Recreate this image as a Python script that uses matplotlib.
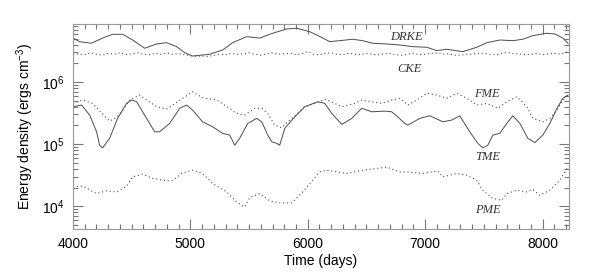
"""Energy density of the different components over time (log scale)."""
import matplotlib
matplotlib.use('Agg')
import matplotlib.pyplot as plt
from matplotlib.ticker import LogLocator, MultipleLocator, NullFormatter

plt.rcParams['font.family'] = ['Liberation Sans', 'DejaVu Sans']
plt.rcParams['mathtext.fontset'] = 'custom'
plt.rcParams['mathtext.rm'] = 'Liberation Sans'
plt.rcParams['mathtext.it'] = 'Liberation Sans:italic'

# DRKE (solid)
drke_t = [4000, 4056, 4156, 4252, 4338, 4423, 4508, 4610, 4713, 4798, 4883,
          4951, 5019, 5164, 5275, 5360, 5480, 5590, 5701, 5820, 5905, 6016,
          6102, 6187, 6272, 6383, 6468, 6553, 6673, 6784, 6894, 7014, 7099,
          7184, 7321, 7440, 7526, 7637, 7748, 7833, 7918, 8037, 8106, 8174,
          8217]
drke_e = [5.1e6, 4.47e6, 4.21e6, 5.1e6, 5.87e6, 5.87e6, 4.75e6, 3.5e6, 4.1e6,
          4.3e6, 3.71e6, 2.97e6, 2.62e6, 2.8e6, 3.28e6, 4.3e6, 5.38e6, 5.1e6,
          6.1e6, 7.16e6, 7.35e6, 6.47e6, 5.42e6, 4.47e6, 4.63e6, 4.89e6,
          4.63e6, 4.21e6, 4.1e6, 3.95e6, 3.71e6, 3.63e6, 3.2e6, 3.37e6, 3.08e6,
          3.63e6, 4.3e6, 4.75e6, 4.63e6, 4.89e6, 5.58e6, 6.1e6, 5.94e6, 5.1e6,
          4.21e6]

# CKE (dotted, nearly flat)
cke_t = [4000, 4050, 4100, 4150, 4200, 4250, 4300, 4350, 4400, 4450, 4500,
         4550, 4600, 4650, 4700, 4750, 4800, 4850, 4900, 4950, 5000, 5050,
         5100, 5150, 5200, 5250, 5300, 5350, 5400, 5450, 5500, 5550, 5600,
         5650, 5700, 5750, 5800, 5850, 5900, 5950, 6000, 6050, 6100, 6150,
         6200, 6250, 6300, 6350, 6400, 6450, 6500, 6550, 6600, 6650, 6700,
         6750, 6800, 6850, 6900, 6950, 7000, 7050, 7100, 7150, 7200, 7250,
         7300, 7350, 7400, 7450, 7500, 7550, 7600, 7650, 7700, 7750, 7800,
         7850, 7900, 7950, 8000, 8050, 8100, 8150, 8200, 8225]
cke_e = [2.9e6, 2.8e6, 2.75e6, 2.95e6, 2.8e6, 2.7e6, 2.9e6, 2.8e6, 2.95e6,
         2.75e6, 2.85e6, 2.95e6, 2.8e6, 2.75e6, 2.9e6, 2.8e6, 2.95e6, 2.8e6,
         2.85e6, 2.75e6, 2.65e6, 2.6e6, 2.62e6, 2.58e6, 2.7e6, 2.8e6, 2.75e6,
         2.9e6, 2.8e6, 2.85e6, 2.95e6, 2.8e6, 2.7e6, 2.85e6, 2.95e6, 2.8e6,
         2.85e6, 2.9e6, 2.75e6, 2.85e6, 3.1e6, 2.8e6, 2.75e6, 2.9e6, 2.95e6,
         2.8e6, 2.75e6, 2.9e6, 2.8e6, 2.75e6, 2.9e6, 2.8e6, 2.75e6, 2.85e6,
         2.9e6, 2.75e6, 2.7e6, 2.8e6, 2.9e6, 2.75e6, 2.8e6, 2.9e6, 2.95e6,
         2.8e6, 2.85e6, 2.7e6, 2.7e6, 2.8e6, 2.8e6, 2.9e6, 2.9e6, 2.8e6,
         2.75e6, 2.9e6, 3.0e6, 2.85e6, 2.85e6, 2.75e6, 2.8e6, 2.9e6, 2.75e6,
         2.85e6, 2.9e6, 2.8e6, 3.0e6, 2.95e6]

# FME (dotted)
fme_t = [4000, 4082, 4167, 4244, 4312, 4372, 4423, 4483, 4568, 4627, 4713,
         4798, 4849, 4934, 5019, 5104, 5224, 5335, 5386, 5463, 5548, 5608,
         5659, 5719, 5778, 5830, 5915, 5974, 6059, 6145, 6230, 6290, 6400,
         6460, 6545, 6630, 6715, 6784, 6852, 6929, 7014, 7099, 7184, 7269,
         7355, 7440, 7526, 7620, 7696, 7781, 7867, 7918, 8003, 8063, 8123,
         8174, 8217]
fme_e = [4.53e5, 5.13e5, 4.53e5, 3.16e5, 2.35e5, 2.72e5, 3.53e5, 5.13e5,
         6.17e5, 5.13e5, 4.0e5, 3.67e5, 4.26e5, 5.46e5, 6.98e5, 5.58e5, 5.13e5,
         3.77e5, 3.16e5, 2.94e5, 3.77e5, 3.77e5, 3.13e5, 2.02e5, 1.83e5,
         2.29e5, 3.13e5, 4.0e5, 4.53e5, 5.32e5, 4.53e5, 4.0e5, 4.53e5, 5.13e5,
         4.81e5, 4.53e5, 5.13e5, 5.46e5, 4.26e5, 5.13e5, 6.58e5, 6.17e5,
         5.46e5, 6.58e5, 5.46e5, 4.26e5, 4.53e5, 3.77e5, 4.81e5, 5.79e5, 4.0e5,
         2.6e5, 2.29e5, 2.6e5, 3.53e5, 5.13e5, 6.17e5]

# TME (solid)
tme_t = [4000, 4073, 4142, 4201, 4227, 4252, 4312, 4380, 4457, 4500, 4542,
         4627, 4696, 4738, 4824, 4909, 4968, 5019, 5104, 5190, 5275, 5335,
         5378, 5420, 5489, 5565, 5608, 5659, 5693, 5736, 5761, 5804, 5889,
         5974, 6085, 6145, 6204, 6290, 6375, 6460, 6545, 6656, 6715, 6767,
         6826, 6852, 6955, 7040, 7151, 7227, 7295, 7380, 7449, 7491, 7534,
         7577, 7636, 7696, 7747, 7807, 7875, 7935, 8003, 8063, 8123, 8174,
         8217]
tme_e = [4.0e5, 4.26e5, 2.94e5, 1.58e5, 9.6e4, 8.7e4, 1.24e5, 2.6e5, 4.53e5,
         5.13e5, 4.81e5, 2.6e5, 1.58e5, 1.58e5, 2.16e5, 3.77e5, 4.26e5,
         3.53e5, 2.29e5, 1.9e5, 1.49e5, 1.4e5, 9.6e4, 1.24e5, 2.16e5, 2.6e5,
         2.29e5, 1.4e5, 1.09e5, 1.03e5, 9.6e4, 1.79e5, 2.75e5, 4.0e5, 4.81e5,
         4.53e5, 3.13e5, 2.08e5, 2.6e5, 3.77e5, 3.32e5, 3.4e5, 3.32e5, 2.75e5,
         2.16e5, 2.02e5, 2.6e5, 2.86e5, 2.29e5, 2.44e5, 2.86e5, 1.58e5, 1.03e5,
         8.7e4, 9.6e4, 1.4e5, 1.49e5, 2.16e5, 2.86e5, 2.16e5, 1.24e5, 1.06e5,
         1.4e5, 2.16e5, 3.77e5, 5.46e5, 6.17e5]

# PME (dotted)
pme_t = [4000, 4082, 4201, 4286, 4372, 4457, 4508, 4593, 4679, 4798, 4849,
         4934, 5019, 5104, 5190, 5309, 5394, 5463, 5506, 5591, 5676, 5761,
         5863, 5957, 6042, 6102, 6161, 6332, 6468, 6673, 6784, 6843, 6980,
         7108, 7151, 7270, 7355, 7440, 7491, 7577, 7653, 7696, 7781, 7867,
         7918, 7977, 8063, 8148, 8208]
pme_e = [2.05e4, 2.1e4, 1.6e4, 1.77e4, 1.7e4, 2.1e4, 2.97e4, 3.28e4, 2.8e4,
         2.56e4, 2.62e4, 3.44e4, 3.81e4, 3.37e4, 2.32e4, 1.7e4, 1.17e4, 9.7e3,
         1.38e4, 1.6e4, 1.22e4, 1.13e4, 1.13e4, 1.7e4, 2.62e4, 3.57e4, 3.81e4,
         3.37e4, 3.81e4, 4.26e4, 3.57e4, 3.57e4, 3.37e4, 3.71e4, 2.97e4,
         3.37e4, 3.16e4, 2.62e4, 1.81e4, 1.33e4, 1.25e4, 1.6e4, 1.81e4, 1.7e4,
         1.86e4, 1.5e4, 1.81e4, 2.62e4, 4.05e4]

labels = ['DRKE', 'CKE', 'FME', 'TME', 'PME']
label_t = [6844, 6870, 7522, 7531, 7531]
label_e = [5.3e6, 1.62e6, 6.4e5, 6.2e4, 8.6e3]

line_color = '#4d4d4d'
dotted = (0, (1, 2.5))

fig = plt.figure(figsize=(5.92, 2.77), dpi=100)
ax = fig.add_axes([0.1233, 0.1733, 0.8377, 0.7401])

ax.plot(drke_t, drke_e, color=line_color, lw=0.7)
ax.plot(cke_t, cke_e, color=line_color, lw=0.8, ls=dotted)
ax.plot(fme_t, fme_e, color=line_color, lw=0.8, ls=dotted)
ax.plot(tme_t, tme_e, color=line_color, lw=0.7)
ax.plot(pme_t, pme_e, color=line_color, lw=0.8, ls=dotted)

for name, t, e in zip(labels, label_t, label_e):
    ax.text(t, e, name, family=['Liberation Serif', 'DejaVu Serif'],
            style='italic', fontsize=9, ha='center', va='center',
            color='#333333')

ax.set_yscale('log')
ax.set_xlim(4000, 8225)
ax.set_ylim(4.3e3, 8.6e6)
ax.xaxis.set_major_locator(MultipleLocator(1000))
ax.xaxis.set_minor_locator(MultipleLocator(100))
ax.yaxis.set_minor_locator(LogLocator(base=10, subs=range(2, 10), numticks=20))
ax.yaxis.set_minor_formatter(NullFormatter())
ax.set_yticks([1e4, 1e5, 1e6])
ax.set_yticklabels(['10$^4$', '10$^5$', '10$^6$'])

ax.tick_params(which='both', direction='in', top=True, right=True,
               color='#777777', labelsize=10, width=0.8)
ax.tick_params(which='major', length=7, pad=6)
ax.tick_params(which='minor', length=3.5)
for s in ax.spines.values():
    s.set_color('#999999')
    s.set_linewidth(0.8)

ax.set_xlabel('Time (days)', fontsize=10, labelpad=2)
ax.set_ylabel('Energy density (ergs cm$^{-3}$)', fontsize=10, labelpad=4)

fig.savefig('out.png', dpi=100)
